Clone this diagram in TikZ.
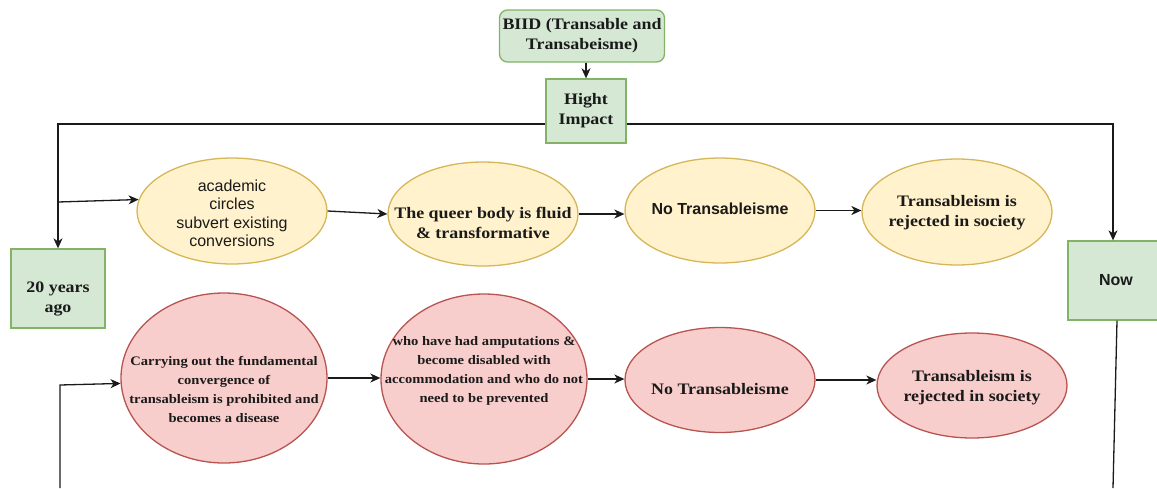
\documentclass[tikz,border=0pt]{standalone}
\usepackage{fontspec}
\newfontfamily\srf{Liberation Serif}[FakeStretch=1.12]
\newfontfamily\sns{Liberation Sans}
\usetikzlibrary{shapes.geometric,arrows.meta,calc}
\definecolor{gfill}{HTML}{D5E8D4}
\definecolor{gline}{HTML}{82B366}
\definecolor{yfill}{HTML}{FFF2CC}
\definecolor{yline}{HTML}{D6B656}
\definecolor{rfill}{HTML}{F8CECC}
\definecolor{rline}{HTML}{B85450}
\definecolor{ink}{HTML}{1A1A1A}
\tikzset{
  gbox/.style={rectangle, fill=gfill, draw=gline, line width=1.3pt, inner sep=0pt, align=center, text=ink,
    font=\srf\bfseries\fontsize{16}{20}\selectfont},
  yell/.style={ellipse, fill=yfill, draw=yline, line width=1.3pt, inner sep=0pt},
  redl/.style={ellipse, fill=rfill, draw=rline, line width=1.3pt, inner sep=0pt},
  bigserif/.style={align=center, inner sep=0pt, text=ink, font=\srf\bfseries\fontsize{16}{20}\selectfont},
  smallserif/.style={align=center, inner sep=0pt, text=ink, font=\srf\bfseries\fontsize{13}{19}\selectfont},
  sanstxt/.style={align=center, inner sep=0pt, text=ink, font=\sns\fontsize{16}{18.5}\selectfont},
  sansbold/.style={align=center, inner sep=0pt, text=ink, font=\sns\bfseries\fontsize{16}{18.5}\selectfont},
  conn/.style={draw=ink, line width=1.3pt},
  arr/.style={conn, -{Stealth[length=10pt,width=9pt,inset=3pt]}}
}
\begin{document}
\begin{tikzpicture}[x=1pt,y=-1pt]
\useasboundingbox (0,0) rectangle (1157,488);
\clip (0,0) rectangle (1157,488);

% green boxes
\node[gbox, rounded corners=8pt, minimum width=165, minimum height=52] (biid) at (582,36) {BIID (Transable and\\Transabeisme)};
\node[gbox, minimum width=80, minimum height=64] (hight) at (586,111) {Hight\\Impact};
\node[gbox, minimum width=94, minimum height=79] (yrs) at (58,288.5) {};
\node[bigserif] (yrsT) at (58,298.5) {20 years\\ago};
\node[gbox, minimum width=90, minimum height=79] (now) at (1113,280.5) {};
\node[sansbold] (nowT) at (1116,280) {Now};

% yellow row
\node[yell, minimum width=190, minimum height=106] (aca) at (232,211) {};
\node[sanstxt] (acaT) at (232,213.5) {academic\\circles\\subvert existing\\conversions};
\node[yell, minimum width=190, minimum height=104] (queer) at (483,214) {};
\node[bigserif] (queerT) at (483,223) {The queer body is fluid\\\& transformative};
\node[yell, minimum width=190, minimum height=105] (noy) at (720,210.5) {};
\node[sansbold] (noyT) at (720,209) {No Transableisme};
\node[yell, minimum width=190, minimum height=106] (rejy) at (957,212) {};
\node[bigserif] (rejyT) at (957,213) {Transableism is\\rejected in society};

% red row
\node[redl, minimum width=206, minimum height=170] (carry) at (224,378) {};
\node[smallserif] (carryT) at (224,389) {Carrying out the fundamental\\convergence of\\transableism is prohibited and\\becomes a disease};
\node[redl, minimum width=206, minimum height=170] (who) at (484,379) {};
\node[smallserif] (whoT) at (484,371) {who have had amputations \&\\become disabled with\\accommodation and who do not\\need to be prevented};
\node[redl, minimum width=190, minimum height=105] (nor) at (720,380) {};
\node[bigserif] (norT) at (720,389) {No Transableisme};
\node[redl, minimum width=190, minimum height=105] (rejr) at (972,385.5) {};
\node[bigserif] (rejrT) at (972,387.5) {Transableism is\\rejected in society};

% coordinates for free ends
\coordinate (br) at (58,202);
\coordinate (bl) at (60,488);
\coordinate (bk) at (60,385);
\coordinate (nb) at (1113,488);

% connectors
\draw[arr] (hight.north |- biid.south) -- (hight.north);
\draw[arr] ([yshift=-13pt]hight.west) -| (yrs.north);
\draw[arr] ([yshift=-13pt]hight.east) -| (now.north);
\draw[arr] (br) -- (aca.173);
\draw[arr] (aca.east) -- (queer.west);
\draw[arr] (queer.east) -- (queer.east -| noy.west);
\draw[arr] (noy.east) -- (noy.east -| rejy.west);
\draw[arr] (carry.east) -- (carry.east -| who.west);
\draw[arr] (who.east) -- (who.east -| nor.west);
\draw[arr] (nor.east) -- (nor.east -| rejr.west);
\draw[arr] (bl) -- (bk) -- (carry.183);
\draw[conn] ([xshift=4pt]now.south) -- (nb);
\end{tikzpicture}
\end{document}
